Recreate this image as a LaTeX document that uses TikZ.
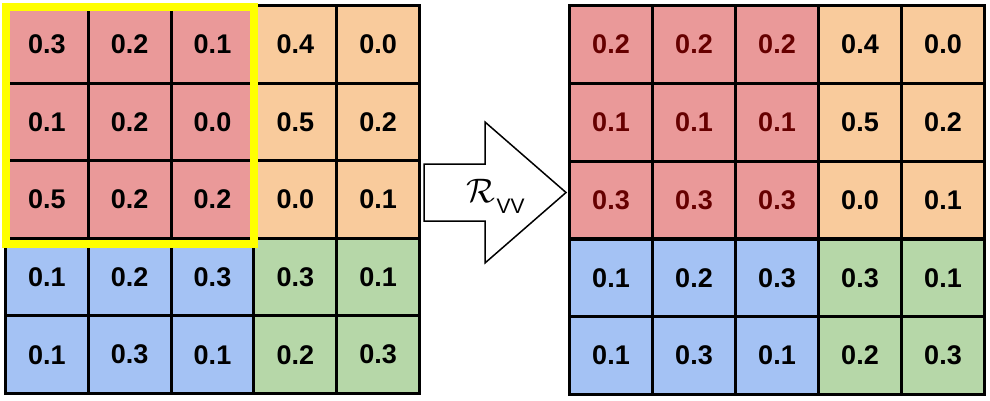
\documentclass[tikz,border=0pt]{standalone}
\usepackage{fontspec}
\setmainfont{Liberation Sans}
\usetikzlibrary{calc}
\definecolor{cred}{HTML}{EA9999}
\definecolor{corange}{HTML}{F9CB9C}
\definecolor{cblue}{HTML}{A4C2F4}
\definecolor{cgreen}{HTML}{B6D7A8}
\definecolor{cdark}{HTML}{660000}
\definecolor{cyel}{HTML}{FFFF00}
\begin{document}
\begin{tikzpicture}[x=1pt,y=-1pt,
  cell/.style={draw=black, line width=3pt, rectangle, minimum width=82.8pt, minimum height=77.6pt,
    inner sep=0pt, font=\fontsize{27}{30}\selectfont\bfseries, anchor=center},
  yellowbox/.style={draw=cyel, line width=8pt},
  blockarrow/.style={draw=black, line width=1.5pt, fill=white, line join=miter}]
\useasboundingbox (0,0) rectangle (990,400);
% left grid
\foreach \r/\vals in {1/{0.3,0.2,0.1,0.4,0.0},2/{0.1,0.2,0.0,0.5,0.2},3/{0.5,0.2,0.2,0.0,0.1},4/{0.1,0.2,0.3,0.3,0.1},5/{0.1,0.3,0.1,0.2,0.3}}{
  \foreach \v [count=\c] in \vals {
    \ifnum\r<4 \ifnum\c<4 \def\cc{cred}\else\def\cc{corange}\fi
    \else \ifnum\c<4 \def\cc{cblue}\else\def\cc{cgreen}\fi\fi
    \node[cell, fill=\cc] (L\r\c) at ({5.5+82.8*(\c-0.5)},{5.5+77.6*(\r-0.5)}) {\v};
  }
}
% right grid
\foreach \r/\vals in {1/{0.2,0.2,0.2,0.4,0.0},2/{0.1,0.1,0.1,0.5,0.2},3/{0.3,0.3,0.3,0.0,0.1},4/{0.1,0.2,0.3,0.3,0.1},5/{0.1,0.3,0.1,0.2,0.3}}{
  \foreach \v [count=\c] in \vals {
    \def\tc{black}
    \ifnum\r<4 \ifnum\c<4 \def\cc{cred}\def\tc{cdark}\else\def\cc{corange}\fi
    \else \ifnum\c<4 \def\cc{cblue}\else\def\cc{cgreen}\fi\fi
    \node[cell, fill=\cc, text=\tc] (R\r\c) at ({569.5+83*(\c-0.5)},{5.5+77.8*(\r-0.5)}) {\v};
  }
}
% yellow selection box
\draw[yellowbox] ($(L11.north west)+(1.5,3)$) rectangle ($(L33.south east)+(-1,4.3)$);
% block arrow
\coordinate (a1) at (424,164);
\coordinate (a2) at (485,164);
\coordinate (a3) at (485,122);
\coordinate (a4) at (566,192.5);
\coordinate (a5) at (485,263);
\coordinate (a6) at (485,221);
\coordinate (a7) at (424,221);
\draw[blockarrow] (a1) -- (a2) -- (a3) -- (a4) -- (a5) -- (a6) -- (a7) -- cycle;
\node[inner sep=0pt] (rvv) at (495.5,196) {\scalebox{3.4}{$\mathcal{R}$}\kern1.5pt\raisebox{-11pt}{\fontsize{21}{24}\selectfont VV}};
\end{tikzpicture}
\end{document}
